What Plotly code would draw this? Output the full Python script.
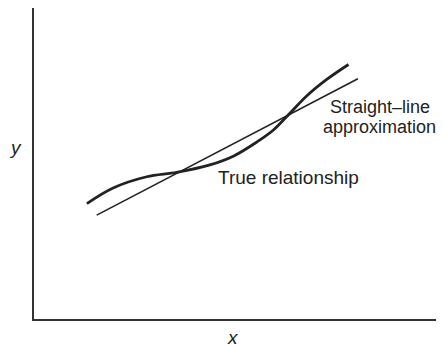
import plotly.graph_objects as go

# True relationship (curved)
curve_x = [1.29, 1.93, 2.75, 3.48, 4.29, 4.86, 5.43, 5.84, 6.20, 6.65, 7.14, 7.67]
curve_y = [3.70, 4.20, 4.56, 4.70, 4.94, 5.22, 5.67, 6.06, 6.54, 7.15, 7.68, 8.16]

# Straight-line approximation (end points)
line_x = [1.53, 7.90]
line_y = [3.33, 7.70]

font = "Liberation Sans, Arial, sans-serif"
ink = "#222222"

fig = go.Figure()

fig.add_trace(go.Scatter(x=curve_x, y=curve_y, mode="lines",
                         line=dict(color=ink, width=2.8, shape="spline", smoothing=1.0),
                         hoverinfo="skip"))
fig.add_trace(go.Scatter(x=line_x, y=line_y, mode="lines",
                         line=dict(color=ink, width=1.6),
                         hoverinfo="skip"))

# labels on the curves
fig.add_annotation(x=8.43, y=6.79, text="Straight–line", showarrow=False,
                   font=dict(family=font, size=18, color=ink))
fig.add_annotation(x=8.43, y=6.15, text="approximation", showarrow=False,
                   font=dict(family=font, size=18, color=ink))
fig.add_annotation(x=6.21, y=4.55, text="True relationship", showarrow=False,
                   font=dict(family=font, size=19, color=ink))

# axis names
fig.add_annotation(x=0.485, y=-0.061, xref="paper", yref="paper", text="<i>x</i>",
                   xanchor="center", yanchor="middle",
                   showarrow=False, font=dict(family=font, size=19, color=ink))
fig.add_annotation(x=-0.046, y=0.553, xref="paper", yref="paper", text="<i>y</i>",
                   xanchor="center", yanchor="middle",
                   showarrow=False, font=dict(family=font, size=19, color=ink))

fig.update_xaxes(range=[0, 10], showline=True, linecolor="#333333", linewidth=1.8,
                 showgrid=False, zeroline=False, showticklabels=False, ticks="")
fig.update_yaxes(range=[0, 9.97], showline=True, linecolor="#333333", linewidth=1.8,
                 showgrid=False, zeroline=False, showticklabels=False, ticks="")

# the page adds an 8px body margin, so the figure is sized to fit inside it
fig.update_layout(width=436, height=339,
                  margin=dict(l=26, r=0, t=0, b=28),
                  paper_bgcolor="white", plot_bgcolor="white",
                  showlegend=False)

fig.write_html("out.html")
